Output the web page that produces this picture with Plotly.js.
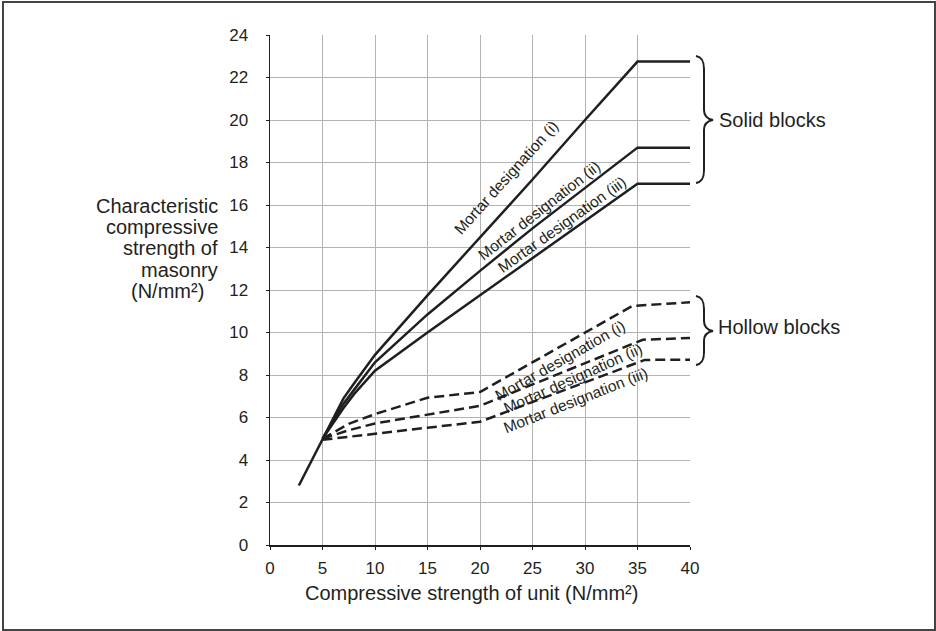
<!DOCTYPE html>
<html>
<head>
<meta charset="utf-8">
<script src="https://cdn.plot.ly/plotly-3.0.1.min.js"></script>
<style>
  html, body { margin: 0; padding: 0; background: #fff; }
  #chart { width: 936px; height: 631px; }
</style>
</head>
<body>
<div id="chart"></div>
<script>
// ---- Data ----
const solidX_i   = [2.75, 5, 6, 7, 8, 9, 10, 15, 20, 25, 30, 35, 40];
const solidY_i   = [2.8, 5, 6.0, 6.9, 7.6, 8.3, 8.95, 11.75, 14.45, 17.2, 20.0, 22.75, 22.75];
const solidX_ii  = [5, 6, 7, 8, 9, 10, 15, 20, 25, 30, 35, 40];
const solidY_ii  = [5, 5.85, 6.65, 7.3, 7.95, 8.6, 10.85, 12.9, 14.9, 16.8, 18.7, 18.7];
const solidX_iii = [5, 6, 7, 8, 9, 10, 15, 20, 25, 30, 35, 40];
const solidY_iii = [5, 5.75, 6.45, 7.1, 7.65, 8.2, 10.0, 11.75, 13.5, 15.25, 17.0, 17.0];

const hollowX_i   = [5, 7.5, 10, 15, 20, 34.5, 40];
const hollowY_i   = [5, 5.7, 6.16, 6.93, 7.2, 11.25, 11.42];
const hollowX_ii  = [5, 7.5, 10, 15, 20, 35.5, 40];
const hollowY_ii  = [5, 5.4, 5.72, 6.14, 6.55, 9.66, 9.74];
const hollowX_iii = [5, 7.5, 10, 15, 20, 35.7, 40];
const hollowY_iii = [4.95, 5.1, 5.24, 5.52, 5.8, 8.71, 8.72];

const xTickVals = [0, 5, 10, 15, 20, 25, 30, 35, 40];
const yTickVals = [0, 2, 4, 6, 8, 10, 12, 14, 16, 18, 20, 22, 24];

const lineLabels = ['Mortar designation (i)', 'Mortar designation (ii)', 'Mortar designation (iii)'];
const groupLabels = ['Solid blocks', 'Hollow blocks'];
const xTitle = 'Compressive strength of unit (N/mm²)';
const yTitleLines = ['Characteristic', 'compressive', 'strength of', 'masonry', '(N/mm²)'];

// ---- Layout helpers ----
const M = { l: 270, r: 246, t: 35, b: 86 };
const W = 936, H = 631;
const PW = W - M.l - M.r, PH = H - M.t - M.b;
const PX = px => (px - M.l) / PW;
const PY = py => (H - M.b - py) / PH;

const FONT = 'Liberation Sans, Arial, Helvetica, sans-serif';
const INK = '#1f1f1f';
const TXT = '#231f20';

function solid(x, y) {
  return { x, y, type: 'scatter', mode: 'lines', hoverinfo: 'skip', showlegend: false,
           line: { color: INK, width: 2.5 } };
}
function dashed(x, y) {
  return { x, y, type: 'scatter', mode: 'lines', hoverinfo: 'skip', showlegend: false,
           line: { color: INK, width: 2.5, dash: '10px,5px' } };
}

const traces = [
  solid(solidX_i, solidY_i), solid(solidX_ii, solidY_ii), solid(solidX_iii, solidY_iii),
  dashed(hollowX_i, hollowY_i), dashed(hollowX_ii, hollowY_ii), dashed(hollowX_iii, hollowY_iii)
];

function lbl(text, x, y, angle) {
  return { text, x, y, xref: 'x', yref: 'y', showarrow: false, textangle: angle,
           xanchor: 'center', yanchor: 'middle', font: { family: FONT, size: 15.5, color: TXT } };
}
function ptxt(text, px, py, xanchor, size) {
  return { text, x: PX(px), y: PY(py), xref: 'paper', yref: 'paper', showarrow: false,
           xanchor, yanchor: 'middle', font: { family: FONT, size, color: TXT } };
}

const annotations = [
  lbl(lineLabels[0], 22.48, 17.29, -48),
  lbl(lineLabels[1], 25.62, 15.76, -38),
  lbl(lineLabels[2], 27.8, 15.1, -35.5),
  lbl(lineLabels[0], 27.62, 8.66, -29.5),
  lbl(lineLabels[1], 28.81, 7.85, -24),
  lbl(lineLabels[2], 29.05, 6.8, -21.5),
  ptxt(groupLabels[0], 717, 120, 'left', 20),
  ptxt(groupLabels[1], 716, 327, 'left', 20),
  ptxt(xTitle, 471.7, 593, 'center', 20),
  ptxt(yTitleLines[0], 220, 206, 'right', 20),
  ptxt(yTitleLines[1], 220, 227, 'right', 20),
  ptxt(yTitleLines[2], 220, 248, 'right', 20),
  ptxt(yTitleLines[3], 220, 270, 'right', 20),
  ptxt(yTitleLines[4], 206, 291, 'right', 20)
];

function bracePath(x0, xm, xt, yTop, yMid, yBot) {
  const p = (x, y) => PX(x) + ',' + PY(y);
  return 'M' + p(x0, yTop) +
    ' C' + p(x0 + 6, yTop + 1) + ' ' + p(xm, yTop + 5) + ' ' + p(xm, yTop + 13) +
    ' L' + p(xm, yMid - 10) +
    ' C' + p(xm, yMid - 5) + ' ' + p(xm + 3, yMid - 1) + ' ' + p(xt, yMid) +
    ' C' + p(xm + 3, yMid + 1) + ' ' + p(xm, yMid + 5) + ' ' + p(xm, yMid + 10) +
    ' L' + p(xm, yBot - 13) +
    ' C' + p(xm, yBot - 5) + ' ' + p(x0 + 6, yBot - 1) + ' ' + p(x0, yBot);
}

const shapes = [
  { type: 'path', xref: 'paper', yref: 'paper', path: bracePath(696, 704, 713, 56, 120, 183),
    line: { color: INK, width: 2 } },
  { type: 'path', xref: 'paper', yref: 'paper', path: bracePath(696, 704, 713, 296, 331, 365),
    line: { color: INK, width: 2 } },
  { type: 'rect', xref: 'paper', yref: 'paper', x0: PX(3), x1: PX(935), y0: PY(630), y1: PY(2),
    line: { color: '#444', width: 2 }, fillcolor: 'rgba(0,0,0,0)' }
];

const axisCommon = {
  showgrid: true, gridcolor: '#b3b3b3', gridwidth: 1,
  showline: true, linecolor: INK, linewidth: 1.5,
  ticks: 'outside', ticklen: 3, tickcolor: INK, tickwidth: 1,
  zeroline: false, fixedrange: true,
  tickfont: { family: FONT, size: 17, color: TXT }
};

const layout = {
  width: W, height: H,
  margin: M,
  paper_bgcolor: '#fff', plot_bgcolor: '#fff',
  showlegend: false,
  xaxis: Object.assign({}, axisCommon, { range: [0, 40], tickvals: xTickVals, ticklabelstandoff: 4 }),
  yaxis: Object.assign({}, axisCommon, { range: [0, 24], tickvals: yTickVals, ticklabelstandoff: 14 }),
  annotations, shapes
};

Plotly.newPlot('chart', traces, layout, { staticPlot: true, displayModeBar: false });
</script>
</body>
</html>
